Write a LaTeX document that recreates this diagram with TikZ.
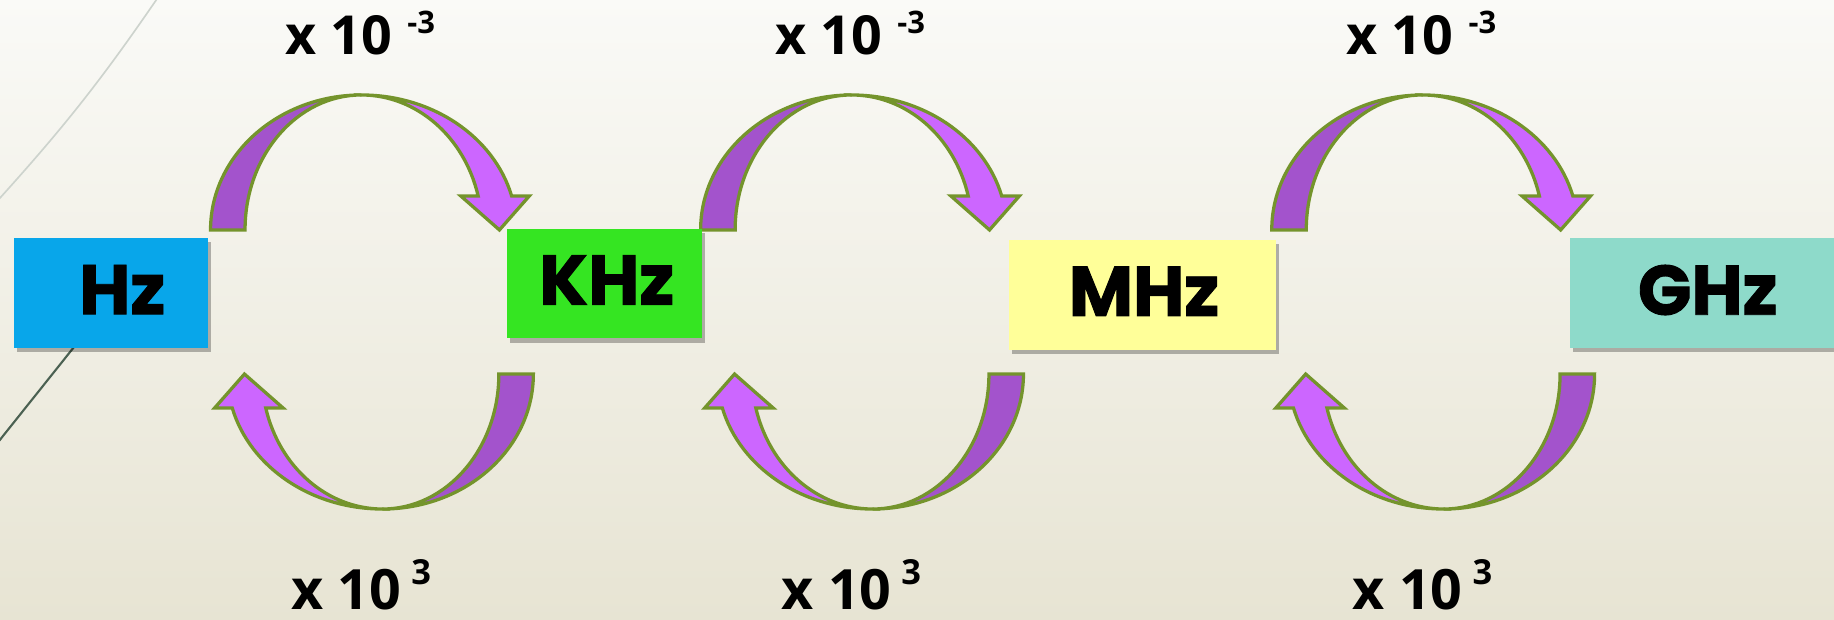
\documentclass[tikz,border=0pt]{standalone}
\usepackage{fontspec}
\newfontfamily\boxfont{Poppins}[BoldFeatures={FakeBold=1.3}]
\newfontfamily\labfont{Open Sans}
\usetikzlibrary{shadows}
\definecolor{bgtop}{RGB}{250,250,247}
\definecolor{bgbot}{RGB}{231,228,211}
\definecolor{darkpurp}{RGB}{163,83,204}
\definecolor{lightpurp}{RGB}{204,102,255}
\definecolor{outl}{RGB}{116,148,44}
\definecolor{hzblue}{RGB}{8,166,234}
\definecolor{khzgreen}{RGB}{53,229,34}
\definecolor{mhzyellow}{RGB}{255,255,153}
\definecolor{ghzteal}{RGB}{142,218,202}
\definecolor{lightline}{RGB}{205,211,205}
\definecolor{darkline}{RGB}{75,97,82}
\tikzset{
  unitbox/.style={minimum width=#1, minimum height=94pt, inner sep=0pt,
    text depth=6pt, font=\boxfont\bfseries\fontsize{60}{60}\selectfont,
    drop shadow={shadow xshift=2.5pt, shadow yshift=-3.5pt, opacity=0.28, fill=black}},
  band/.style={draw=outl, line width=2.8pt, line join=miter},
  toplabel/.style={anchor=base west, inner sep=0pt,
    font=\labfont\bfseries\fontsize{46}{46}\selectfont},
  botlabel/.style={anchor=base west, inner sep=0pt,
    font=\labfont\bfseries\fontsize{47.5}{47.5}\selectfont},
  pics/curvarrow/.style={code={
    \filldraw[band, fill=darkpurp] (-138,61.6)
      arc[start angle=180, end angle=90, x radius=129pt, y radius=115.4pt]
      arc[start angle=90, end angle=180, x radius=99.5pt, y radius=115.4pt] -- cycle;
    \filldraw[band, fill=lightpurp] (-9,177)
      arc[start angle=90, end angle=14.56, x radius=132.7pt, y radius=115.4pt]
      -- (134.5,90.6) -- (109,61.6) -- (76,90.6) -- (90.8,90.6)
      arc[start angle=14.56, end angle=90, x radius=103.1pt, y radius=115.4pt] -- cycle;
  }}
}
\newcommand{\supminus}{\raisebox{18.5pt}{\fontsize{26.5}{26.5}\selectfont -3}}
\newcommand{\supplus}{\raisebox{21pt}{\fontsize{29.5}{29.5}\selectfont 3}}
\begin{document}
\begin{tikzpicture}[x=1pt, y=1pt]
  \useasboundingbox (0,0) rectangle (1568,530);
  \fill[top color=bgtop, bottom color=bgbot] (0,0) rectangle (1568,530);
  \begin{scope}
    \clip (0,0) rectangle (1568,530);
    \draw[lightline, line width=1.4pt] (140.4,540) to[bend left=4] (-7.9,352);
    \draw[darkline, line width=1.8pt] (75,248) -- (-8,144);
  \end{scope}

  % conversion arrows
  \pic at (318,271.8) {curvarrow};
  \pic[rotate=180] at (318,271.8) {curvarrow};
  \pic at (737,271.8) {curvarrow};
  \pic[rotate=180] at (737,271.8) {curvarrow};
  \pic at (1225.3,271.8) {curvarrow};
  \pic[rotate=180] at (1225.3,271.8) {curvarrow};

  % unit boxes
  \node[unitbox=166pt, fill=hzblue] (hz) at (95,279.4) {\hspace*{19pt}Hz};
  \node[unitbox=167pt, fill=khzgreen] (khz) at (516.7,287.6) {\hspace*{4pt}KHz};
  \node[unitbox=228pt, fill=mhzyellow] (mhz) at (977,278) {\hspace*{2pt}MHz};
  \node[unitbox=228pt, fill=ghzteal] (ghz) at (1456,279.2) {\hspace*{8pt}GHz};

  % labels
  \node[toplabel] (t1) at (244,483) {x 10\hspace{13pt}\supminus};
  \node[toplabel] (t2) at (663,483) {x 10\hspace{13pt}\supminus};
  \node[toplabel] (t3) at (1151.3,483) {x 10\hspace{13pt}\supminus};
  \node[botlabel] (b1) at (249,9) {x 10\hspace{8.5pt}\supplus};
  \node[botlabel] (b2) at (668,9) {x 10\hspace{8.5pt}\supplus};
  \node[botlabel] (b3) at (1156.3,9) {x 10\hspace{8.5pt}\supplus};
\end{tikzpicture}
\end{document}
